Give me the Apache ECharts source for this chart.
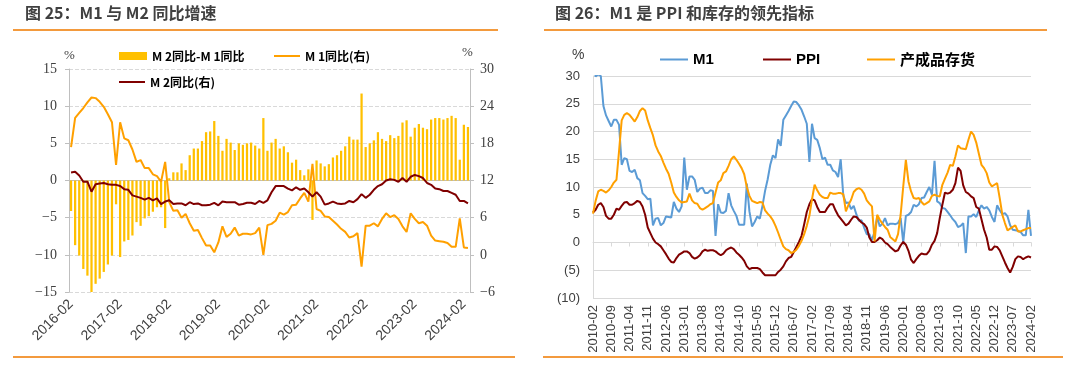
<!DOCTYPE html>
<html>
<head>
<meta charset="utf-8">
<script src="https://cdn.jsdelivr.net/npm/echarts@6/dist/echarts.min.js"></script>
<style>
  html, body { margin: 0; padding: 0; background: #fff; }
  #chart { width: 1080px; height: 375px; }
</style>
</head>
<body>
<div id="chart"></div>
<script>
// month labels, 2016-02..2024-03 (left) and 2010-02..2024-02 (right)
function months(y0, m0, n) {
  var out = [];
  for (var k = 0; k < n; k++) {
    var t = m0 - 1 + k;
    var y = y0 + Math.floor(t / 12);
    var m = t % 12 + 1;
    out.push(y + '-' + (m < 10 ? '0' + m : m));
  }
  return out;
}
var leftMonths = months(2016, 2, 98);
var rightMonths = months(2010, 2, 169);

// 图25 (%): M2-M1 bars on left axis, M1 / M2 yoy on right axis
var spreadM2M1 = [
  -4.1, -8.7, -10.1, -11.9, -12.8, -15.2, -13.9, -13.2, -12.3, -11.3, -10.1,
  -3.2, -10.3, -8.2, -8.0, -7.4, -5.6, -6.1, -5.1, -4.8, -4.2, -3.6, -3.6,
  -6.4, 0.3, 1.1, 1.1, 2.3, 1.4, 3.4, 4.3, 4.3, 5.3, 6.5, 6.6,
  8.0, 6.0, 4.0, 5.6, 5.1, 4.1, 5.0, 4.8, 5.0, 5.1, 4.7, 4.3,
  8.4, 4.0, 5.1, 5.6, 4.3, 4.6, 3.8, 2.4, 2.8, 1.4, 0.7, 1.5,
  -5.3, 2.7, 2.3, 1.9, 2.2, 3.1, 3.4, 4.0, 4.6, 5.9, 5.5, 5.5,
  11.7, 4.5, 5.0, 5.4, 6.5, 5.6, 5.3, 6.1, 5.7, 6.0, 7.8, 8.1,
  5.9, 7.1, 7.6, 7.1, 6.9, 8.2, 8.4, 8.4, 8.2, 8.4, 8.7, 8.4,
  2.8, 7.5, 7.2
];
var m1Yoy = [
  17.4, 22.1, 22.9, 23.7, 24.6, 25.4, 25.3, 24.7, 23.9, 22.7, 21.4,
  14.5, 21.4, 18.8, 18.5, 17.0, 15.0, 15.3, 14.0, 14.0, 13.0, 12.7, 11.8,
  15.0, 8.5, 7.1, 7.2, 6.0, 6.6, 5.1, 3.9, 4.0, 2.7, 1.5, 1.5,
  0.4, 2.0, 4.6, 2.9, 3.4, 4.4, 3.1, 3.4, 3.4, 3.3, 3.5, 4.4,
  0.0, 4.8, 5.0, 5.5, 6.8, 6.5, 6.9, 8.0, 8.1, 9.1, 10.0, 8.6,
  14.7, 7.4, 7.1, 6.2, 6.1, 5.5, 4.9, 4.2, 3.7, 2.8, 3.0, 3.5,
  -1.9, 4.7, 4.7, 5.1, 4.6, 5.8, 6.7, 6.1, 6.4, 5.8, 4.6, 3.7,
  6.7, 5.8, 5.1, 5.3, 4.7, 3.1, 2.3, 2.2, 2.1, 1.9, 1.3, 1.3,
  5.9, 1.2, 1.1
];
var m2Yoy = [
  13.3, 13.4, 12.8, 11.8, 11.8, 10.2, 11.4, 11.5, 11.6, 11.4, 11.3,
  11.3, 11.1, 10.6, 10.5, 9.6, 9.4, 9.2, 8.9, 9.2, 8.8, 9.1, 8.2,
  8.6, 8.8, 8.2, 8.3, 8.3, 8.0, 8.5, 8.2, 8.3, 8.0, 8.0, 8.1,
  8.4, 8.0, 8.6, 8.5, 8.5, 8.5, 8.1, 8.2, 8.4, 8.4, 8.2, 8.7,
  8.4, 8.8, 10.1, 11.1, 11.1, 11.1, 10.7, 10.4, 10.9, 10.5, 10.7, 10.1,
  9.4, 10.1, 9.4, 8.1, 8.3, 8.6, 8.3, 8.2, 8.3, 8.7, 8.5, 9.0,
  9.8, 9.2, 9.7, 10.5, 11.1, 11.4, 12.0, 12.2, 12.1, 11.8, 12.4, 11.8,
  12.6, 12.9, 12.7, 12.4, 11.6, 11.3, 10.7, 10.6, 10.3, 10.3, 10.0, 9.7,
  8.7, 8.7, 8.3
];

// 图26 (%): M1, PPI, 产成品存货, 2010-02..2024-02
var m1Long = [
  35.0, 29.9, 30.3, 30.0, 24.6, 22.9, 21.9, 20.9, 22.1, 22.1, 21.2,
  14.0, 15.2, 15.0, 12.9, 12.7, 13.1, 11.6, 11.2, 8.9, 8.4, 7.8, 7.9,
  3.1, 4.3, 4.4, 3.1, 3.5, 4.7, 4.6, 4.5, 7.3, 6.1, 5.5, 6.5,
  15.3, 9.5, 11.9, 11.9, 11.3, 9.1, 9.7, 9.9, 8.9, 8.9, 9.4, 9.3,
  1.2, 6.9, 5.4, 5.3, 5.7, 8.9, 6.7, 5.7, 4.8, 3.2, 3.2, 3.2,
  10.6, 5.6, 2.9, 3.7, 4.7, 4.3, 6.6, 9.3, 11.4, 14.0, 15.7, 15.2,
  18.6, 17.4, 22.1, 22.9, 23.7, 24.6, 25.4, 25.3, 24.7, 23.9, 22.7, 21.4,
  14.5, 21.4, 18.8, 18.5, 17.0, 15.0, 15.3, 14.0, 14.0, 13.0, 12.7, 11.8,
  15.0, 8.5, 7.1, 7.2, 6.0, 6.6, 5.1, 3.9, 4.0, 2.7, 1.5, 1.5,
  0.4, 2.0, 4.6, 2.9, 3.4, 4.4, 3.1, 3.4, 3.4, 3.3, 3.5, 4.4,
  0.0, 4.8, 5.0, 5.5, 6.8, 6.5, 6.9, 8.0, 8.1, 9.1, 10.0, 8.6,
  14.7, 7.4, 7.1, 6.2, 6.1, 5.5, 4.9, 4.2, 3.7, 2.8, 3.0, 3.5,
  -1.9, 4.7, 4.7, 5.1, 4.6, 5.8, 6.7, 6.1, 6.4, 5.8, 4.6, 3.7,
  6.7, 5.8, 5.1, 5.3, 4.7, 3.1, 2.3, 2.2, 2.1, 1.9, 1.3, 1.3,
  5.9, 1.2
];
var ppi = [
  5.4, 5.9, 6.8, 7.1, 6.4, 4.8, 4.3, 4.3, 5.0, 6.1, 5.9,
  6.6, 7.2, 7.3, 6.8, 6.8, 7.1, 7.5, 7.3, 6.5, 5.0, 2.7, 1.7,
  0.7, 0.0, -0.3, -0.7, -1.4, -2.1, -2.9, -3.5, -3.6, -2.8, -2.2, -1.9,
  -1.6, -1.6, -1.9, -2.6, -2.9, -2.7, -2.3, -1.6, -1.3, -1.5, -1.4, -1.4,
  -1.6, -2.0, -2.3, -2.0, -1.4, -1.1, -0.9, -1.2, -1.8, -2.2, -2.7, -3.3,
  -4.3, -4.8, -4.6, -4.6, -4.6, -4.8, -5.4, -5.9, -5.9, -5.9, -5.9, -5.9,
  -5.3, -4.9, -4.3, -3.4, -2.8, -2.6, -1.7, -0.8, 0.1, 1.2, 3.3, 5.5,
  6.9, 7.8, 7.6, 6.4, 5.5, 5.5, 5.5, 6.3, 6.9, 6.9, 5.8, 4.9,
  4.3, 3.7, 3.1, 3.4, 4.1, 4.7, 4.6, 4.1, 3.6, 3.3, 2.7, 0.9,
  0.1, 0.1, 0.4, 0.9, 0.6, 0.0, -0.3, -0.8, -1.2, -1.6, -1.4, -0.5,
  0.1, -0.4, -1.5, -3.1, -3.7, -3.0, -2.4, -2.0, -2.1, -2.1, -1.5, -0.4,
  0.3, 1.7, 4.4, 6.8, 9.0, 8.8, 9.0, 9.5, 10.7, 13.5, 12.9, 10.3,
  9.1, 8.8, 8.3, 8.0, 6.4, 6.1, 4.2, 2.3, 0.9, -1.3, -1.3, -0.7,
  -0.8, -1.4, -2.5, -3.6, -4.6, -5.4, -4.4, -3.0, -2.5, -2.6, -3.0, -2.7,
  -2.5, -2.7
];
var inventory = [
  5.2, 7.5, 9.2, 9.5, 9.3, 9.0, 9.4, 10.0, 10.8, 11.3, 16.5,
  22.0, 23.0, 23.3, 23.0, 22.4, 21.8, 22.6, 23.7, 24.2, 23.8, 22.0, 20.6,
  19.3, 17.5, 16.4, 15.6, 14.4, 13.3, 12.4, 10.8, 9.0, 8.2, 7.6, 7.2,
  7.3, 7.4, 8.8, 7.6, 7.1, 7.0, 6.2, 5.9, 6.2, 6.5, 6.9, 7.1,
  9.0, 10.8, 11.2, 12.5, 12.8, 13.8, 15.0, 15.5, 14.9, 14.2, 13.4, 12.3,
  10.0, 8.4, 7.5, 7.3, 7.1, 7.3, 7.2, 5.8, 5.2, 4.7, 4.0, 3.0,
  1.8, 0.5, -0.7, -1.2, -1.4, -1.9, -1.7, -1.3, -0.6, 0.3, 1.5, 3.0,
  4.8, 7.8, 10.4, 9.4, 8.6, 8.2, 8.0, 8.0, 9.0, 8.8, 8.8, 8.9,
  8.9, 8.7, 5.6, 6.8, 7.7, 9.1, 9.6, 9.8, 9.5, 8.8, 7.6, 7.0,
  6.5, 0.2, 5.0, 4.1, 3.4, 2.8, 2.3, 1.0, 0.6, 0.2, 1.5, 5.0,
  10.1, 14.9, 11.0, 9.2, 8.0, 7.9, 8.0, 7.3, 6.8, 7.1, 7.4, 8.4,
  8.6, 8.4, 8.3, 10.4, 11.5, 12.6, 14.0, 13.8, 15.5, 17.5, 17.0, 16.9,
  16.8, 18.5, 20.0, 19.4, 18.0, 16.0, 14.0, 13.4, 12.5, 10.8, 10.1, 10.4,
  10.7, 8.0, 5.0, 3.5, 2.2, 2.5, 2.8, 3.1, 2.0, 2.0, 2.2, 2.4,
  2.6, 2.6
];

var serif = '"Liberation Serif", "Noto Sans CJK SC", serif';
var sans = '"Liberation Sans", "Noto Sans CJK SC", sans-serif';
var cjk = '"Noto Sans CJK SC", sans-serif';
var rule = '#f39a3d';

var myChart = echarts.init(document.getElementById('chart'));
var option = {
  animation: false,
  backgroundColor: '#ffffff',
  grid: [
    { left: 69, top: 69, width: 401, height: 223, outerBoundsMode: 'none' },
    { left: 593, top: 76, width: 438, height: 222, outerBoundsMode: 'none' }
  ],
  legend: [
    {
      data: ['M 2同比-M 1同比'], left: 114, top: 45, icon: 'rect',
      itemWidth: 28, itemHeight: 8, itemGap: 4,
      textStyle: { fontFamily: cjk, fontWeight: 'bold', fontSize: 12, color: '#000' }
    },
    {
      data: ['M 1同比(右)'], left: 269, top: 45, icon: 'rect',
      itemWidth: 26, itemHeight: 2,
      textStyle: { fontFamily: cjk, fontWeight: 'bold', fontSize: 12, color: '#000' }
    },
    {
      data: ['M 2同比(右)'], left: 114, top: 71, icon: 'rect',
      itemWidth: 26, itemHeight: 2,
      textStyle: { fontFamily: cjk, fontWeight: 'bold', fontSize: 12, color: '#000' }
    },
    {
      data: ['M1'], left: 655, top: 47, icon: 'rect', itemWidth: 28, itemHeight: 2,
      textStyle: { fontFamily: sans, fontWeight: 'bold', fontSize: 15, color: '#000' }
    },
    {
      data: ['PPI'], left: 758, top: 47, icon: 'rect', itemWidth: 28, itemHeight: 2,
      textStyle: { fontFamily: sans, fontWeight: 'bold', fontSize: 15, color: '#000' }
    },
    {
      data: ['产成品存货'], left: 862, top: 47, icon: 'rect', itemWidth: 28, itemHeight: 2,
      textStyle: { fontFamily: cjk, fontWeight: 'bold', fontSize: 15, color: '#000' }
    }
  ],
  xAxis: [
    { // left chart, line at zero with ticks
      type: 'category', gridIndex: 0, data: leftMonths, boundaryGap: true,
      axisLine: { onZero: true, lineStyle: { color: '#bfbfbf', width: 1 } },
      axisTick: { interval: 11, length: 4, lineStyle: { color: '#bfbfbf' } },
      axisLabel: { show: false }
    },
    { // left chart, labels at the bottom
      type: 'category', gridIndex: 0, data: leftMonths, boundaryGap: true, position: 'bottom',
      axisLine: { show: false, onZero: false }, axisTick: { show: false },
      axisLabel: { interval: 11, rotate: 45, margin: 10, fontFamily: sans, fontSize: 14, color: '#404040' }
    },
    { // right chart, zero line with ticks
      type: 'category', gridIndex: 1, data: rightMonths, boundaryGap: false,
      axisLine: { onZero: true, lineStyle: { color: '#d9d9d9', width: 1 } },
      axisTick: { interval: 6, length: 4, lineStyle: { color: '#d9d9d9' } },
      axisLabel: { show: false }
    },
    { // right chart, labels at the bottom
      type: 'category', gridIndex: 1, data: rightMonths, boundaryGap: false, position: 'bottom',
      axisLine: { show: false, onZero: false }, axisTick: { show: false },
      axisLabel: { interval: 6, rotate: 90, margin: 7, fontFamily: sans, fontSize: 13, color: '#404040' }
    }
  ],
  yAxis: [
    {
      type: 'value', gridIndex: 0, min: -15, max: 15, interval: 5,
      axisLine: { show: true, lineStyle: { color: '#bfbfbf' } },
      axisTick: { show: true, length: 4, lineStyle: { color: '#bfbfbf' } },
      axisLabel: {
        margin: 12, fontFamily: serif, fontSize: 14, color: '#404040',
        formatter: function(v) { return v < 0 ? '\u2212' + Math.abs(v) : String(v); }
      },
      splitLine: { lineStyle: { color: '#d9d9d9', type: 'dashed' } }
    },
    {
      type: 'value', gridIndex: 0, position: 'right', min: -6, max: 30, interval: 6,
      axisLine: { show: true, lineStyle: { color: '#bfbfbf' } },
      axisTick: { show: true, length: 4, lineStyle: { color: '#bfbfbf' } },
      axisLabel: {
        margin: 10, fontFamily: serif, fontSize: 14, color: '#404040',
        formatter: function(v) { return v < 0 ? '\u2212' + Math.abs(v) : String(v); }
      },
      splitLine: { show: false }
    },
    {
      type: 'value', gridIndex: 1, min: -10, max: 30, interval: 5,
      axisLine: { show: true, lineStyle: { color: '#d9d9d9' } },
      axisTick: { show: false },
      axisLabel: {
        margin: 13, fontFamily: sans, fontSize: 13, color: '#404040',
        formatter: function(v) { return v < 0 ? '(' + Math.abs(v) + ')' : String(v); }
      },
      splitLine: { lineStyle: { color: '#d9d9d9', width: 1 } }
    }
  ],
  series: [
    {
      name: 'M 2同比-M 1同比', type: 'bar', xAxisIndex: 0, yAxisIndex: 0,
      data: spreadM2M1, barWidth: '55%', itemStyle: { color: '#ffc000' }
    },
    {
      name: 'M 1同比(右)', type: 'line', xAxisIndex: 0, yAxisIndex: 1,
      data: m1Yoy, showSymbol: false, itemStyle: { color: '#ffa000' },
      lineStyle: { color: '#ffa000', width: 2 }
    },
    {
      name: 'M 2同比(右)', type: 'line', xAxisIndex: 0, yAxisIndex: 1,
      data: m2Yoy, showSymbol: false, itemStyle: { color: '#800000' },
      lineStyle: { color: '#800000', width: 2 }
    },
    {
      name: 'M1', type: 'line', xAxisIndex: 2, yAxisIndex: 2, clip: true,
      data: m1Long, showSymbol: false, itemStyle: { color: '#5b9bd5' },
      lineStyle: { color: '#5b9bd5', width: 2 }
    },
    {
      name: 'PPI', type: 'line', xAxisIndex: 2, yAxisIndex: 2,
      data: ppi, showSymbol: false, itemStyle: { color: '#800000' },
      lineStyle: { color: '#800000', width: 2 }
    },
    {
      name: '产成品存货', type: 'line', xAxisIndex: 2, yAxisIndex: 2,
      data: inventory, showSymbol: false, itemStyle: { color: '#ffa000' },
      lineStyle: { color: '#ffa000', width: 2 }
    }
  ],
  graphic: [
    { type: 'text', left: 25, top: 5, style: { text: '图 25：M1 与 M2 同比增速', font: 'bold 16px "Noto Sans CJK SC"', fill: '#404040' } },
    { type: 'text', left: 555, top: 5, style: { text: '图 26：M1 是 PPI 和库存的领先指标', font: 'bold 16px "Noto Sans CJK SC"', fill: '#404040' } },
    { type: 'line', shape: { x1: 13, y1: 30, x2: 498, y2: 30 }, style: { stroke: rule, lineWidth: 2 } },
    { type: 'line', shape: { x1: 544, y1: 30, x2: 1047, y2: 30 }, style: { stroke: rule, lineWidth: 2 } },
    { type: 'line', shape: { x1: 13, y1: 357, x2: 515, y2: 357 }, style: { stroke: rule, lineWidth: 2 } },
    { type: 'line', shape: { x1: 543, y1: 357, x2: 1063, y2: 357 }, style: { stroke: rule, lineWidth: 2 } },
    { type: 'text', left: 64, top: 49, style: { text: '%', font: '13px "Liberation Serif"', fill: '#404040' } },
    { type: 'text', left: 462, top: 46, style: { text: '%', font: '13px "Liberation Serif"', fill: '#404040' } },
    { type: 'text', left: 572, top: 48, style: { text: '%', font: '14px "Liberation Sans"', fill: '#404040' } }
  ]
};
myChart.setOption(option);
</script>
</body>
</html>
